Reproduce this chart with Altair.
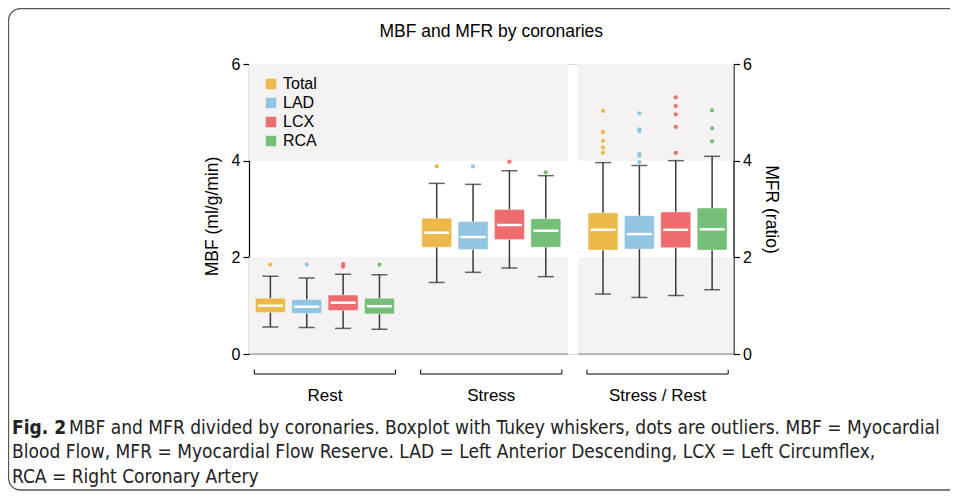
import altair as alt
import pandas as pd

# ---------------- data ----------------
groups = ["Rest", "Stress", "Stress / Rest"]
series = ["Total", "LAD", "LCX", "RCA"]
series_colors = ["#EDB94B", "#92C5E2", "#EE6B6E", "#75BF78"]

whisker_low = {
    "Rest": [0.56, 0.55, 0.53, 0.51],
    "Stress": [1.48, 1.69, 1.78, 1.60],
    "Stress / Rest": [1.24, 1.17, 1.21, 1.33],
}
q1 = {
    "Rest": [0.86, 0.84, 0.90, 0.83],
    "Stress": [2.21, 2.16, 2.37, 2.21],
    "Stress / Rest": [2.15, 2.17, 2.20, 2.15],
}
median = {
    "Rest": [1.00, 0.98, 1.06, 0.99],
    "Stress": [2.51, 2.42, 2.67, 2.55],
    "Stress / Rest": [2.57, 2.48, 2.57, 2.58],
}
q3 = {
    "Rest": [1.155, 1.13, 1.22, 1.155],
    "Stress": [2.81, 2.74, 2.99, 2.80],
    "Stress / Rest": [2.92, 2.86, 2.94, 3.02],
}
whisker_high = {
    "Rest": [1.61, 1.57, 1.65, 1.64],
    "Stress": [3.53, 3.51, 3.79, 3.69],
    "Stress / Rest": [3.96, 3.90, 4.00, 4.09],
}
outliers = {
    "Rest": {"Total": [1.85], "LAD": [1.85], "LCX": [1.86, 1.81], "RCA": [1.85]},
    "Stress": {"Total": [3.88], "LAD": [3.88], "LCX": [3.98], "RCA": [3.76]},
    "Stress / Rest": {
        "Total": [5.03, 4.59, 4.41, 4.27, 4.165],
        "LAD": [4.98, 4.65, 4.61, 4.14, 4.10, 3.97],
        "LCX": [5.31, 5.13, 4.96, 4.70, 4.16],
        "RCA": [5.04, 4.67, 4.40],
    },
}
band_lo = [0, 4]
band_hi = [2, 6]

title_text = "MBF and MFR by coronaries"
y_left_title = "MBF (ml/g/min)"
y_right_title = "MFR (ratio)"
y_ticks = [0, 2, 4, 6]
cap_fig = "Fig. 2"
cap_line1 = "MBF and MFR divided by coronaries. Boxplot with Tukey whiskers, dots are outliers. MBF = Myocardial"
cap_line2 = "Blood Flow, MFR = Myocardial Flow Reserve. LAD = Left Anterior Descending, LCX = Left Circumflex,"
cap_line3 = "RCA = Right Coronary Artery"

# ---------------- tables ----------------
rows = []
for g in groups:
    for i, s in enumerate(series):
        rows.append(dict(group=g, series=s, lo=whisker_low[g][i], q1=q1[g][i],
                         med=median[g][i], q3=q3[g][i], hi=whisker_high[g][i]))
box_df = pd.DataFrame(rows)
out_df = pd.DataFrame([dict(group=g, series=s, value=v)
                       for g in groups for s in series for v in outliers[g][s]])
band_df = pd.DataFrame({"lo": band_lo, "hi": band_hi})
grp_df = pd.DataFrame({"group": groups})
one = pd.DataFrame({"k": [0]})

# ---------------- styling ----------------
FONT = "Liberation Sans, Arial, Helvetica, sans-serif"
CAPFONT = "DejaVu Sans Condensed, Liberation Sans Narrow, Arial Narrow, sans-serif"
BG = "#F4F2F3"
W, H = 484.5, 290

ysc = alt.Scale(domain=[0, 6], nice=False, zero=False)


def Y(field, axis=None):
    return alt.Y(f"{field}:Q", scale=ysc, axis=axis)


xaxis = alt.Axis(title=None, domain=False, ticks=False, labelAngle=0, labelFontSize=17,
                 labelFont=FONT, labelColor="black", labelPadding=33)
X = alt.X("group:N", scale=alt.Scale(domain=groups, paddingInner=0.087, paddingOuter=0), axis=xaxis)
XO = alt.XOffset("series:N", scale=alt.Scale(domain=series, paddingInner=0.176, paddingOuter=0.176))
leg = alt.Legend(title=None, orient="none", legendX=14, legendY=12, symbolType="square",
                 symbolSize=110, symbolStrokeWidth=0, labelFontSize=16, labelFont=FONT,
                 labelColor="black", rowPadding=3, labelOffset=4, symbolOpacity=1)
C = alt.Color("series:N", scale=alt.Scale(domain=series, range=series_colors), legend=leg)


def yaxis(orient, title, **kw):
    return alt.Axis(orient=orient, values=y_ticks, format="d", grid=False, tickSize=6,
                    tickColor="black", domainColor="black", tickWidth=1.2, domainWidth=1.2,
                    labelFontSize=16, labelFont=FONT, labelColor="black", labelPadding=3,
                    title=title, titleFontSize=17.5, titleFont=FONT, titleFontWeight="normal",
                    titleColor="black", titlePadding=10, **kw)


bg_left = alt.Chart(band_df).mark_rect(color=BG).encode(
    x=alt.value(0), x2=alt.value(319),
    y=Y("lo", yaxis("left", y_left_title, titleY=152)), y2="hi:Q")
bg_right = alt.Chart(band_df).mark_rect(color=BG).encode(
    x=alt.value(329), x2=alt.value(W),
    y=Y("lo", yaxis("right", y_right_title)), y2="hi:Q")

base_l = alt.Chart(one).mark_rule(color="#8a8a8a", strokeWidth=1.2)
xline_l = base_l.encode(x=alt.value(0), x2=alt.value(319), y=alt.value(H))
xline_r = base_l.encode(x=alt.value(329), x2=alt.value(W), y=alt.value(H))

whisk = alt.Chart(box_df).mark_rule(color="#3a3a3a", strokeWidth=1.5).encode(
    x=X, xOffset=XO, y=Y("lo"), y2="hi:Q")
cap_hi = alt.Chart(box_df).mark_tick(color="#262626", thickness=1.5, size=16).encode(
    x=X, xOffset=XO, y=Y("hi"))
cap_lo = alt.Chart(box_df).mark_tick(color="#262626", thickness=1.5, size=16).encode(
    x=X, xOffset=XO, y=Y("lo"))
box = alt.Chart(box_df).mark_bar(stroke="white", strokeWidth=0.8, strokeOpacity=0.5,
                                 cornerRadius=1.5, opacity=1).encode(
    x=X, xOffset=XO, y=Y("q1"), y2="q3:Q", color=C)
med = alt.Chart(box_df).mark_tick(color="white", thickness=2.5, size=25, opacity=1).encode(
    x=X, xOffset=XO, y=Y("med"))
outl = alt.Chart(out_df).mark_circle(size=18, opacity=1).encode(
    x=X, xOffset=XO, y=Y("value"), color=C)

bracket = alt.Chart(grp_df).mark_bar(width=alt.RelativeBandSize(0.93), fill="white",
                                     stroke="black", strokeWidth=1).encode(
    x=X, y=alt.value(306), y2=alt.value(310))
bracket_cover = alt.Chart(grp_df).mark_bar(width=alt.RelativeBandSize(0.92), fill="white").encode(
    x=X, y=alt.value(302), y2=alt.value(308))

title = alt.Chart(one).mark_text(text=title_text, fontSize=17.5, font=FONT, align="center",
                                 baseline="middle", color="black").encode(
    x=alt.value(W / 2), y=alt.value(-32))

cap_kw = dict(font=CAPFONT, fontSize=19, align="left", baseline="middle", color="#222222")
t_fig = alt.Chart(one).mark_text(text=cap_fig, fontWeight="bold", **cap_kw).encode(
    x=alt.value(-237), y=alt.value(364))
t_l1 = alt.Chart(one).mark_text(text=cap_line1, **cap_kw).encode(x=alt.value(-180), y=alt.value(364))
t_l2 = alt.Chart(one).mark_text(text=cap_line2, **cap_kw).encode(x=alt.value(-237), y=alt.value(388))
t_l3 = alt.Chart(one).mark_text(text=cap_line3, **cap_kw).encode(x=alt.value(-237), y=alt.value(413))

border = alt.Chart(one).mark_rect(fillOpacity=0, stroke="#555555", strokeWidth=1.3,
                                  cornerRadius=12).encode(
    x=alt.value(-240.5), x2=alt.value(720), y=alt.value(-55.5), y2=alt.value(426))

chart = alt.layer(
    border, bg_left, bg_right, xline_l, xline_r, whisk, cap_hi, cap_lo, box, med, outl,
    bracket, bracket_cover, title, t_fig, t_l1, t_l2, t_l3,
).resolve_scale(y="independent").properties(
    width=W, height=H,
    padding={"left": 241, "top": 56, "right": 216.5, "bottom": 137},
    autosize=alt.AutoSizeParams(type="none"),
).configure_view(stroke=None).configure(background="white")

chart.save("out.html", embed_options={"renderer": "svg", "actions": False})
